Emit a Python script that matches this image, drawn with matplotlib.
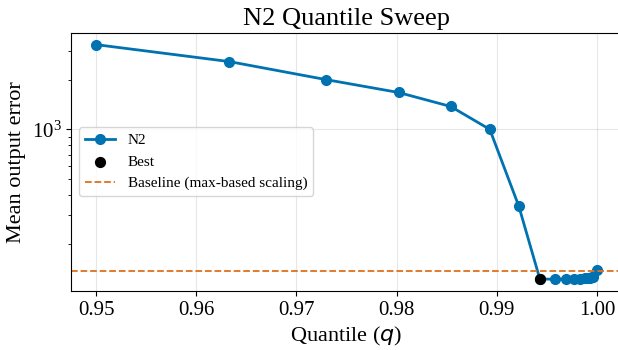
import numpy as np
import matplotlib
matplotlib.use("Agg")
import matplotlib.pyplot as plt

plt.rcParams['font.family'] = ['Liberation Serif', 'DejaVu Serif']

# N2 quantile sweep
quantiles = [0.95, 0.9633, 0.9729, 0.9802, 0.9854, 0.9893, 0.9922, 0.9943,
             0.9958, 0.9969, 0.9977, 0.9983, 0.9988, 0.9991, 0.99935, 0.9995,
             0.99965, 1.0]
errors = [3275, 2583, 2010, 1676, 1378, 1000, 341, 123,
          123, 123, 123.5, 124, 124.5, 125, 125.5, 126,
          127, 140]
best_q = 0.9943
best_err = 123
baseline = 138

blue = '#0072B2'
orange = '#E0701A'

fig, ax = plt.subplots(figsize=(6.18, 3.5), dpi=100)
fig.subplots_adjust(left=0.115, right=1.0065, top=0.906, bottom=0.169)

ax.plot(quantiles, errors, '-o', color=blue, lw=2, ms=7, label='N2')
ax.scatter([best_q], [best_err], color='black', s=50, zorder=5, label='Best')
ax.axhline(baseline, ls='--', color=orange, lw=1.3, label='Baseline (max-based scaling)')

ax.set_yscale('log')
ax.set_xlabel(r'Quantile ($q$)', fontsize=16)
ax.set_ylabel('Mean output error', fontsize=16)
ax.set_title('N2 Quantile Sweep', fontsize=19)
ax.tick_params(axis='both', which='major', labelsize=15)
ax.set_xticks([0.95, 0.96, 0.97, 0.98, 0.99, 1.00])
ax.set_xticklabels(['0.95', '0.96', '0.97', '0.98', '0.99', '1.00'])
ax.grid(True, alpha=0.3)
ax.legend(loc='center left', fontsize=11)

fig.savefig('out.png', dpi=100)
